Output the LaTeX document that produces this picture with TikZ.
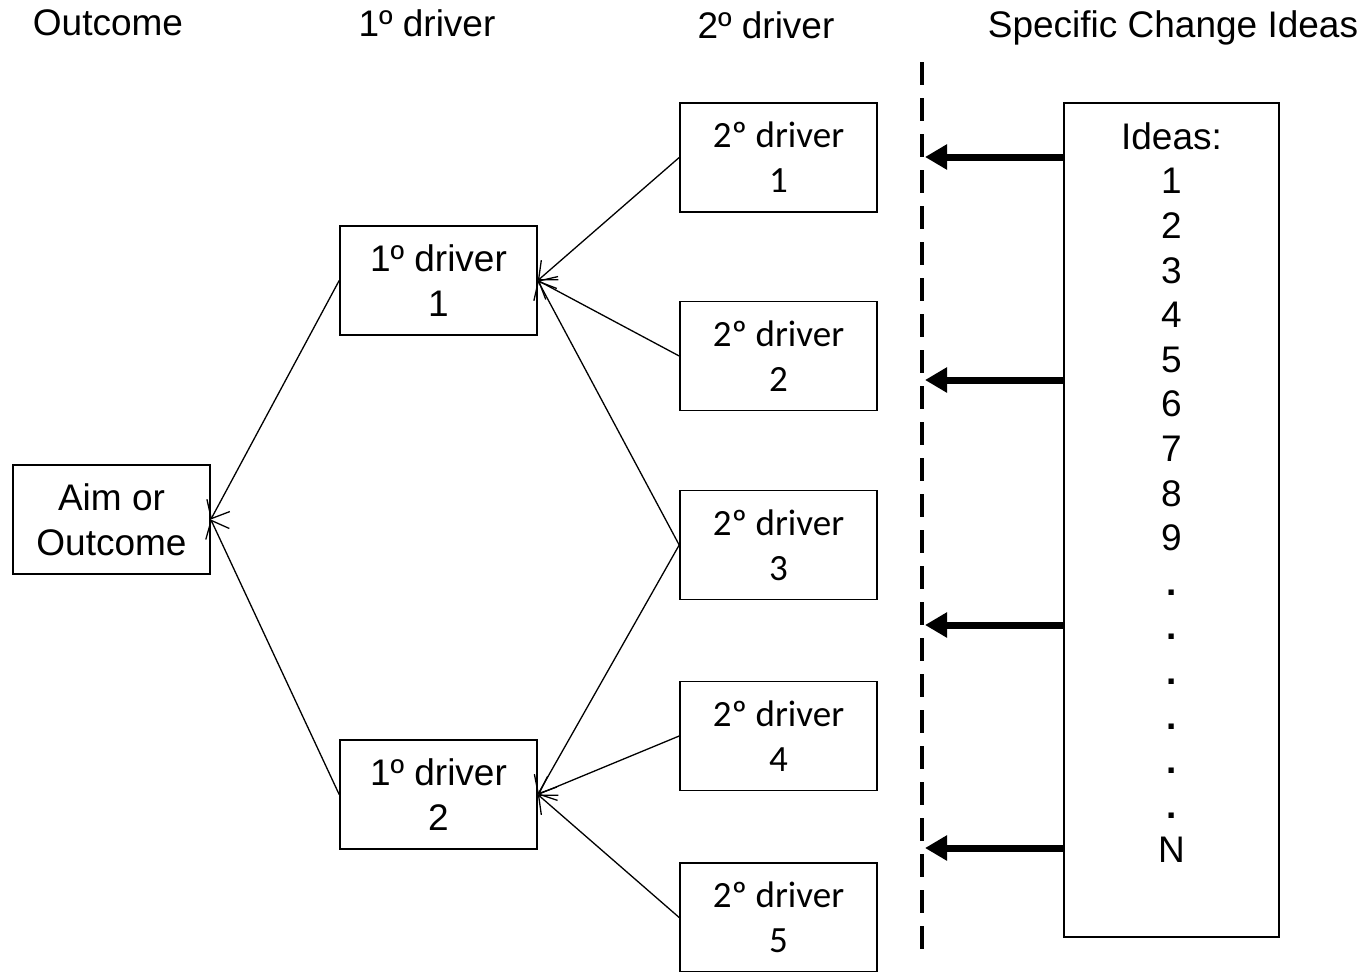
\documentclass[tikz,border=0pt]{standalone}
\usepackage{fontspec}
\setmainfont{Liberation Sans}
\newfontfamily\calibri{Carlito}
\usetikzlibrary{arrows.meta, positioning}

\begin{document}
\begin{tikzpicture}[x=1pt, y=-1pt,
	box/.style={draw, line width=1.6pt, minimum width=197pt, minimum height=109pt,
		inner sep=0pt, align=center, font=\fontsize{37}{45}\selectfont},
	subbox/.style={box, font=\calibri\fontsize{37}{45}\selectfont},
	head/.style={font=\fontsize{37}{45}\selectfont},
	feed/.style={line width=1.3pt, -{Straight Barb[length=15pt, width=26pt]}},
	idea/.style={line width=7pt, -{Triangle[length=22pt, width=24pt]}}]
	\useasboundingbox (0, 0) rectangle (1366, 972);
	% headers
	\node[head] (houtcome) at (108, 23) {Outcome};
	\node[head] (hprimary) at (427, 23) {1º driver};
	\node[head] (hsecondary) at (766, 25) {2º driver};
	\node[head] (hideas) at (1173, 28) {Specific Change Ideas};
	% outcome and drivers
	\node[box] (aim) at (111.5, 519.5) {Aim or\\Outcome};
	\node[box] (p1) at (438.5, 280.5) {1º driver\\1};
	\node[box] (p2) at (438.5, 794.5) {1º driver\\2};
	\node[subbox] (s1) at (778.5, 157.5) {2º driver\\1};
	\node[subbox] (s2) at (778.5, 356) {2º driver\\2};
	\node[subbox] (s3) at (778.5, 545) {2º driver\\3};
	\node[subbox] (s4) at (778.5, 736) {2º driver\\4};
	\node[subbox] (s5) at (778.5, 917.5) {2º driver\\5};
	\draw[feed] (p1.west) -- (aim.east);
	\draw[feed] (p2.west) -- (aim.east);
	\draw[feed] (s1.west) -- (p1.east);
	\draw[feed] (s2.west) -- (p1.east);
	\draw[feed] (s3.west) -- (p1.east);
	\draw[feed] (s3.west) -- (p2.east);
	\draw[feed] (s4.west) -- (p2.east);
	\draw[feed] (s5.west) -- (p2.east);
	% change ideas
	\coordinate (dtop) at (922, 62);
	\coordinate (dbot) at (922, 960);
	\draw[line width=4.5pt, dash pattern=on 23pt off 13pt] (dtop) -- (dbot);
	\node[draw, line width=1.6pt, minimum width=215pt, minimum height=834pt]
		(ideas) at (1171.5, 520) {};
	\node[below=20pt of ideas.north, inner sep=0pt, align=center,
		font=\fontsize{37}{44.6}\selectfont] (idealist)
		{Ideas:\\1\\2\\3\\4\\5\\6\\7\\8\\9\\\textbf{.}\\\textbf{.}\\\textbf{.}\\
		\textbf{.}\\\textbf{.}\\\textbf{.}\\N};
	\foreach \y [count=\i] in {157, 380, 625, 848} {
		\coordinate (d\i) at (925, \y);
		\draw[idea] (ideas.west |- d\i) -- (d\i);
	}
\end{tikzpicture}
\end{document}
